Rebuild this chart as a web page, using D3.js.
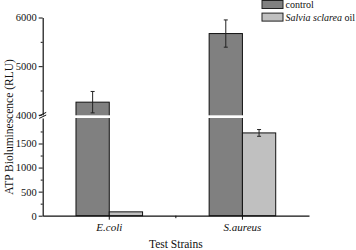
<!DOCTYPE html>
<html lang="en">
	<head>
		<meta charset="utf-8">
		<title>ATP bioluminescence</title>
		<script type="text/javascript" src="https://d3js.org/d3.v7.min.js"></script>
		<style type="text/css">
			body { margin: 0; background: white; }
			text {
				font-family: "Liberation Serif", "Times New Roman", serif;
				fill: #111;
			}
		</style>
	</head>
	<body>
		<script type="text/javascript">

			//Data
			var strains = ["E.coli", "S.aureus"];
			var series = ["control", "Salvia sclarea oil"];
			var controlValues = [4260, 5670];
			var controlErrors = [220, 280];
			var oilValues = [80, 1720];
			var oilErrors = [0, 70];
			var lowerTicks = [0, 500, 1000, 1500];
			var upperTicks = [4000, 5000, 6000];
			var lowerMinor = [250, 750, 1250, 1750];
			var upperMinor = [4500, 5500];

			var w = 356;
			var h = 250;
			var x0 = 42.7, x1end = 309;
			var yBase = 215.7;

			//Broken axis: lower part 0-2030, upper part 3990-6000
			var lowTop = 2030, upBottom = 3990;
			var yLow = d3.scaleLinear().domain([0, lowTop]).range([yBase, 118]);
			var yUp = d3.scaleLinear().domain([upBottom, 6000]).range([115.3, 17.5]);
			var y = d3.scaleLinear().domain([0, lowTop, upBottom, 6000]).range([yBase, 118, 115.3, 17.5]);

			var x = d3.scaleBand().domain(strains).range([x0, x1end]);
			var xs = d3.scaleBand().domain(series)
						.range([x.bandwidth() / 4, x.bandwidth() * 3 / 4]);

			var fills = ["#808080", "#c0c0c0"];

			var data = [];
			strains.forEach(function(s, i) {
				data.push({strain: s, series: series[0], value: controlValues[i], err: controlErrors[i]});
				data.push({strain: s, series: series[1], value: oilValues[i], err: oilErrors[i]});
			});

			var svg = d3.select("body")
						.append("svg")
						.attr("width", w)
						.attr("height", h);

			//Bars
			svg.selectAll("rect.bar")
				.data(data)
				.enter()
				.append("rect")
				.attr("class", "bar")
				.attr("x", function(d) { return x(d.strain) + xs(d.series); })
				.attr("width", xs.bandwidth())
				.attr("y", function(d) { return y(d.value); })
				.attr("height", function(d) { return yBase - y(d.value); })
				.attr("fill", function(d) { return fills[series.indexOf(d.series)]; })
				.attr("stroke", "#111")
				.attr("stroke-width", 1);

			//White gap for the break
			svg.append("rect")
				.attr("x", x0 + 2)
				.attr("width", x1end - x0 - 2)
				.attr("y", yUp(upBottom))
				.attr("height", yLow(lowTop) - yUp(upBottom))
				.attr("fill", "white");

			//Error bars
			var errs = svg.selectAll("g.err")
				.data(data.filter(function(d) { return d.err > 0; }))
				.enter()
				.append("g")
				.attr("class", "err")
				.attr("stroke", "#222")
				.attr("stroke-width", 1);
			errs.append("line")
				.attr("x1", function(d) { return x(d.strain) + xs(d.series) + xs.bandwidth() / 2; })
				.attr("x2", function(d) { return x(d.strain) + xs(d.series) + xs.bandwidth() / 2; })
				.attr("y1", function(d) { return y(d.value + d.err); })
				.attr("y2", function(d) { return y(d.value - d.err); });
			[1, -1].forEach(function(sgn) {
				errs.append("line")
					.attr("x1", function(d) { return x(d.strain) + xs(d.series) + xs.bandwidth() / 2 - 2; })
					.attr("x2", function(d) { return x(d.strain) + xs(d.series) + xs.bandwidth() / 2 + 2; })
					.attr("y1", function(d) { return y(d.value + sgn * d.err); })
					.attr("y2", function(d) { return y(d.value + sgn * d.err); });
			});

			//Y axes
			function styleAxis(g) {
				g.selectAll("text").style("font-size", "10.5px").attr("fill", "#111");
				g.selectAll("line").attr("stroke", "#111");
				g.select(".domain").attr("stroke", "#111").attr("stroke-width", 1.2);
			}
			var gLow = svg.append("g")
				.attr("transform", "translate(" + x0 + ",0)")
				.call(d3.axisLeft(yLow).tickValues(lowerTicks).tickFormat(d3.format("d"))
					.tickSize(4).tickSizeOuter(0).tickPadding(2));
			styleAxis(gLow);
			var gUp = svg.append("g")
				.attr("transform", "translate(" + x0 + ",0)")
				.call(d3.axisLeft(yUp).tickValues(upperTicks).tickFormat(d3.format("d"))
					.tickSize(4).tickSizeOuter(0).tickPadding(2));
			styleAxis(gUp);
			svg.append("g")
				.attr("transform", "translate(" + x0 + ",0)")
				.call(d3.axisLeft(yLow).tickValues(lowerMinor).tickSize(2).tickFormat(""))
				.call(function(g) { g.select(".domain").remove(); g.selectAll("line").attr("stroke", "#111"); });
			svg.append("g")
				.attr("transform", "translate(" + x0 + ",0)")
				.call(d3.axisLeft(yUp).tickValues(upperMinor).tickSize(2).tickFormat(""))
				.call(function(g) { g.select(".domain").remove(); g.selectAll("line").attr("stroke", "#111"); });

			//Break marks
			svg.append("rect")
				.attr("x", x0 - 1).attr("width", 2)
				.attr("y", yUp(upBottom)).attr("height", yLow(lowTop) - yUp(upBottom))
				.attr("fill", "white");
			[0, 2.6].forEach(function(o) {
				svg.append("line")
					.attr("x1", x0 - 3.5).attr("y1", 115.8 + o)
					.attr("x2", x0 + 3.5).attr("y2", 112.4 + o)
					.attr("stroke", "#111").attr("stroke-width", 1);
			});

			//X axis
			var gx = svg.append("g")
				.attr("transform", "translate(0," + yBase + ")")
				.call(d3.axisBottom(x).tickSize(4).tickSizeOuter(0).tickPadding(4));
			gx.selectAll("text").style("font-size", "11px").style("font-style", "italic").attr("fill", "#111");
			gx.selectAll("line").attr("stroke", "#111");
			gx.select(".domain").attr("stroke", "#111").attr("stroke-width", 1.2);
			svg.append("line")
				.attr("x1", x0 + x.step()).attr("x2", x0 + x.step())
				.attr("y1", yBase).attr("y2", yBase + 2.5)
				.attr("stroke", "#111");

			//Axis titles
			svg.append("text")
				.attr("transform", "translate(12.5," + 127 + ") rotate(-90)")
				.attr("text-anchor", "middle")
				.style("font-size", "11.5px")
				.text("ATP Bioluminescence (RLU)");
			svg.append("text")
				.attr("x", x0 + x.step())
				.attr("y", 248)
				.attr("text-anchor", "middle")
				.style("font-size", "11.5px")
				.text("Test Strains");

			//Legend
			var legend = svg.selectAll("g.legend")
				.data(series)
				.enter()
				.append("g")
				.attr("class", "legend")
				.attr("transform", function(d, i) { return "translate(262," + (0.5 + i * 12.6) + ")"; });
			legend.append("rect")
				.attr("width", 21)
				.attr("height", 8)
				.attr("fill", function(d, i) { return fills[i]; })
				.attr("stroke", "#222")
				.attr("stroke-width", 1);
			var lt = legend.append("text")
				.attr("x", 23.5)
				.attr("y", 7.5)
				.style("font-size", "10px");
			lt.filter(function(d, i) { return i === 0; }).text(function(d) { return d; });
			var lt2 = lt.filter(function(d, i) { return i === 1; });
			lt2.append("tspan").style("font-style", "italic").text("Salvia sclarea");
			lt2.append("tspan").text(" oil");

		</script>
	</body>
</html>
